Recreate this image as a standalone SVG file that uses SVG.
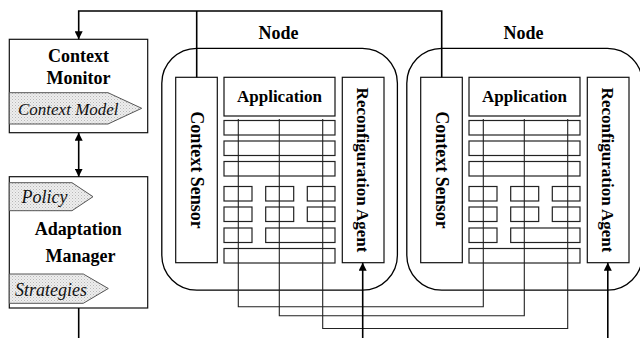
<svg xmlns="http://www.w3.org/2000/svg" width="640" height="338" viewBox="0 0 640 338">
<defs>
  <pattern id="dots" width="3" height="3" patternUnits="userSpaceOnUse">
    <rect width="3" height="3" fill="#eeeeee"/>
    <rect x="0" y="0" width="1" height="1" fill="#b8b8b8"/>
    <rect x="1.5" y="1.5" width="1" height="1" fill="#c8c8c8"/>
  </pattern>
  <marker id="arr" viewBox="0 0 10 10" refX="10" refY="5" markerWidth="8" markerHeight="8" markerUnits="userSpaceOnUse" orient="auto-start-reverse">
    <path d="M0,0 L10,5 L0,10 Z" fill="#000"/>
  </marker>
</defs>
<style>
  .box { fill: #fff; stroke: #111; stroke-width: 1.2; }
  .cell { fill: none; stroke: #222; stroke-width: 1.2; }
  .node { fill: #fff; stroke: #000; stroke-width: 1.3; }
  .tab { fill: url(#dots); stroke: #555; stroke-width: 1; }
  .b { font-family: "Liberation Serif", "Times New Roman", serif; font-weight: bold; fill: #000; }
  .i { font-family: "Liberation Serif", "Times New Roman", serif; font-style: italic; fill: #111; }
  .wire { fill: none; stroke: #222; stroke-width: 1.1; }
  .link { fill: none; stroke: #000; stroke-width: 1.6; }
</style>

<g id="context-monitor">
  <rect class="box" x="9.3" y="39.3" width="138.4" height="93.4"/>
  <text class="b" x="78.5" y="62.3" font-size="18" text-anchor="middle">Context</text>
  <text class="b" x="78.5" y="83.5" font-size="18" text-anchor="middle">Monitor</text>
  <polygon class="tab" points="9.3,92.7 108,92.7 141.7,108.3 108,124 9.3,124"/>
  <text class="i" x="18" y="115" font-size="17">Context Model</text>
</g>

<g id="adaptation-manager">
  <rect class="box" x="9.3" y="176.7" width="138.4" height="131.3"/>
  <polygon class="tab" points="9.3,182.7 72,182.7 93,196.7 72,210.7 9.3,210.7"/>
  <text class="i" x="21.5" y="203.3" font-size="18">Policy</text>
  <text class="b" x="78.3" y="235" font-size="18" text-anchor="middle">Adaptation</text>
  <text class="b" x="80.5" y="261.7" font-size="18" text-anchor="middle">Manager</text>
  <polygon class="tab" points="9.3,274 83.3,274 108.3,288.5 83.3,303.3 9.3,303.3"/>
  <text class="i" x="15" y="295.5" font-size="18">Strategies</text>
</g>

<g id="node-1">
  <text class="b" x="278.5" y="39" font-size="18" text-anchor="middle">Node</text>
  <rect class="node" x="161.8" y="48.3" width="235.6" height="241.9" rx="35" ry="35"/>
  <g id="context-sensor-1">
    <rect class="box" x="175.7" y="77.3" width="41.6" height="185.4"/>
    <text class="b" transform="translate(190.5,170) rotate(90)" font-size="18" text-anchor="middle">Context Sensor</text>
  </g>
  <g id="application-1">
    <rect class="box" x="224" y="77.3" width="111" height="38.7"/>
    <text class="b" x="279.5" y="101.7" font-size="17" text-anchor="middle">Application</text>
  </g>
  <g id="reconfiguration-agent-1">
    <rect class="box" x="342.3" y="77.3" width="41.7" height="185.4"/>
    <text class="b" transform="translate(357.2,170) rotate(90)" font-size="17" text-anchor="middle">Reconfiguration Agent</text>
  </g>
  <g id="components-1">
    <rect class="cell" x="224" y="120.5" width="111" height="14.5"/>
    <rect class="cell" x="224" y="141" width="111" height="14.5"/>
    <rect class="cell" x="224" y="161.5" width="111" height="14.5"/>
    <rect class="cell" x="224" y="186.5" width="28" height="14.5"/>
    <rect class="cell" x="265.7" y="186.5" width="28" height="14.5"/>
    <rect class="cell" x="307.3" y="186.5" width="27.7" height="14.5"/>
    <rect class="cell" x="224" y="207" width="28" height="14.5"/>
    <rect class="cell" x="265.7" y="207" width="28" height="14.5"/>
    <rect class="cell" x="307.3" y="207" width="27.7" height="14.5"/>
    <rect class="cell" x="224" y="228" width="28" height="14.5"/>
    <rect class="cell" x="265.7" y="228" width="69.3" height="14.5"/>
    <rect class="cell" x="224" y="248.5" width="111" height="14.5"/>
  </g>
</g>

<g id="node-2">
  <text class="b" x="523.5" y="39" font-size="18" text-anchor="middle">Node</text>
  <rect class="node" x="406.8" y="48.3" width="235.6" height="241.9" rx="35" ry="35"/>
  <g id="context-sensor-2">
    <rect class="box" x="420.7" y="77.3" width="41.6" height="185.4"/>
    <text class="b" transform="translate(435.5,170) rotate(90)" font-size="18" text-anchor="middle">Context Sensor</text>
  </g>
  <g id="application-2">
    <rect class="box" x="469" y="77.3" width="111" height="38.7"/>
    <text class="b" x="524.5" y="101.7" font-size="17" text-anchor="middle">Application</text>
  </g>
  <g id="reconfiguration-agent-2">
    <rect class="box" x="587.3" y="77.3" width="41.7" height="185.4"/>
    <text class="b" transform="translate(602.2,170) rotate(90)" font-size="17" text-anchor="middle">Reconfiguration Agent</text>
  </g>
  <g id="components-2">
    <rect class="cell" x="469" y="120.5" width="111" height="14.5"/>
    <rect class="cell" x="469" y="141" width="111" height="14.5"/>
    <rect class="cell" x="469" y="161.5" width="111" height="14.5"/>
    <rect class="cell" x="469" y="186.5" width="28" height="14.5"/>
    <rect class="cell" x="510.7" y="186.5" width="28" height="14.5"/>
    <rect class="cell" x="552.3" y="186.5" width="27.7" height="14.5"/>
    <rect class="cell" x="469" y="207" width="28" height="14.5"/>
    <rect class="cell" x="510.7" y="207" width="28" height="14.5"/>
    <rect class="cell" x="552.3" y="207" width="27.7" height="14.5"/>
    <rect class="cell" x="469" y="228" width="28" height="14.5"/>
    <rect class="cell" x="510.7" y="228" width="69.3" height="14.5"/>
    <rect class="cell" x="469" y="248.5" width="111" height="14.5"/>
  </g>
</g>

<g id="connectors">
  <path class="wire" d="M238.3,119 V306.7 H483.3 V119"/>
  <path class="wire" d="M279.3,119 V315.8 H524.3 V119"/>
  <path class="wire" d="M322.7,119 V328.5 H567.7 V119"/>
  <path class="link" d="M441.7,77.3 V11 H78.7 V39.3" marker-end="url(#arr)"/>
  <path class="link" d="M196.7,11 V77.3"/>
  <path class="link" d="M78.7,132.7 V176.7" marker-start="url(#arr)" marker-end="url(#arr)"/>
  <path class="link" d="M78.7,308 V338"/>
  <path class="link" d="M362.7,338 V262.7" marker-end="url(#arr)"/>
  <path class="link" d="M607.8,338 V262.7" marker-end="url(#arr)"/>
</g>
</svg>
